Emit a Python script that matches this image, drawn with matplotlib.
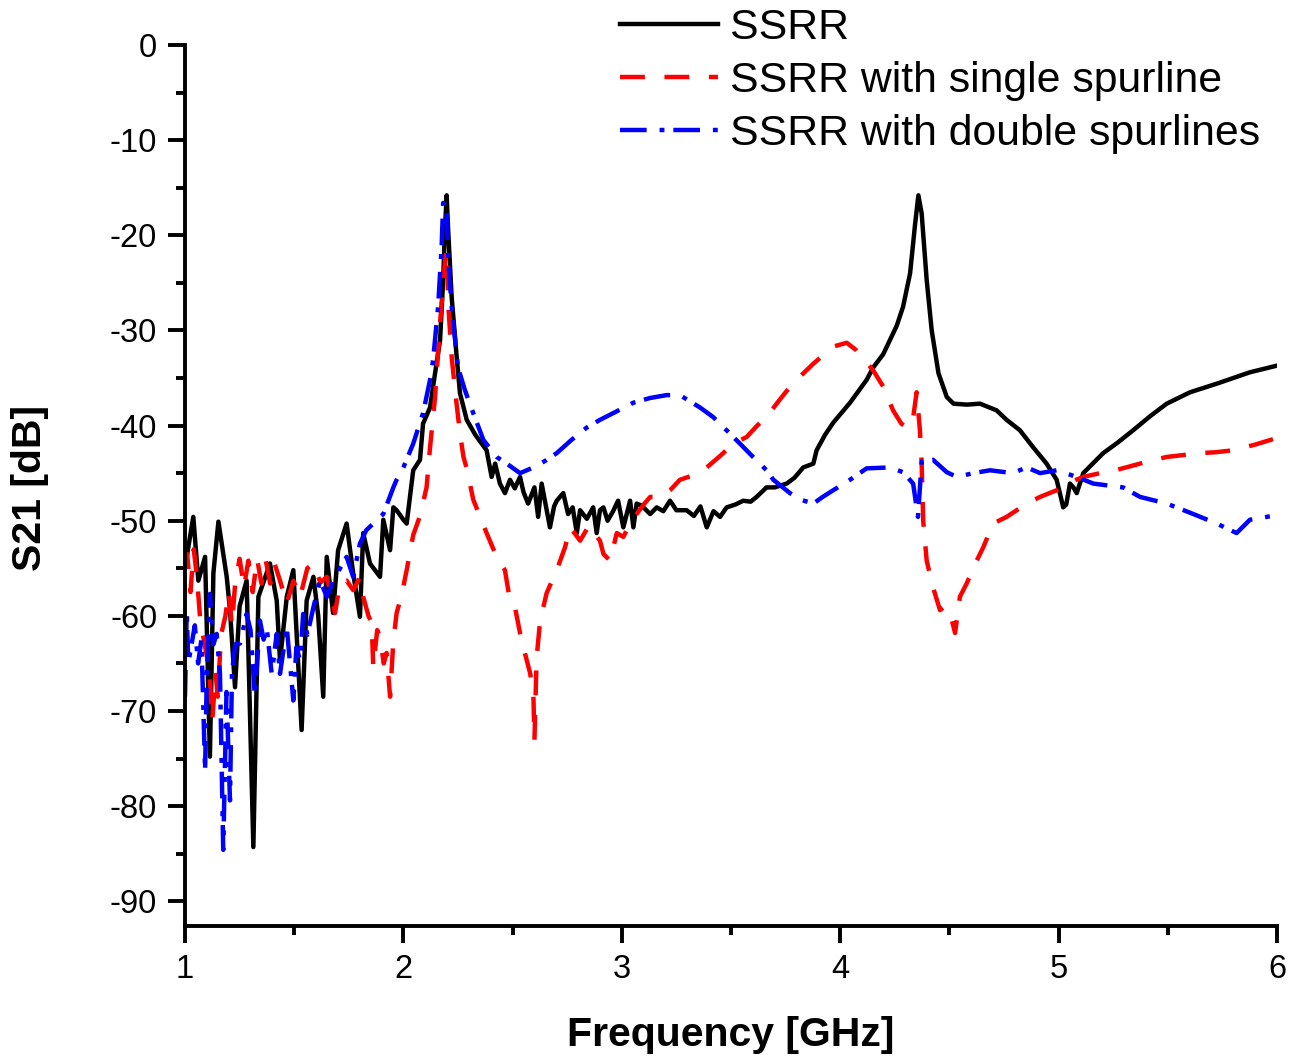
import numpy as np
import matplotlib
matplotlib.use("Agg")
import matplotlib.pyplot as plt
from matplotlib.ticker import MultipleLocator

plt.rcParams['font.family'] = ['Liberation Sans', 'DejaVu Sans']
plt.rcParams['axes.unicode_minus'] = False

# SSRR (black, solid)
f_ssrr = [1.000, 1.038, 1.061, 1.092, 1.114, 1.130, 1.153, 1.191, 1.206, 1.229,
          1.250, 1.282, 1.313, 1.336, 1.389, 1.420, 1.435, 1.466, 1.496, 1.534,
          1.557, 1.588, 1.610, 1.633, 1.649, 1.678, 1.701, 1.740, 1.770, 1.801,
          1.816, 1.847, 1.893, 1.908, 1.939, 1.954, 1.969, 2.000, 2.015, 2.045,
          2.076, 2.090, 2.122, 2.145, 2.168, 2.182, 2.190, 2.198, 2.205, 2.221,
          2.244, 2.259, 2.290, 2.330, 2.381, 2.404, 2.420, 2.442, 2.465, 2.488,
          2.510, 2.534, 2.550, 2.571, 2.600, 2.617, 2.633, 2.656, 2.671, 2.690,
          2.702, 2.732, 2.754, 2.775, 2.794, 2.809, 2.840, 2.869, 2.885, 2.900,
          2.916, 2.935, 2.960, 2.983, 3.007, 3.038, 3.053, 3.068, 3.090, 3.130,
          3.160, 3.190, 3.221, 3.250, 3.297, 3.330, 3.360, 3.389, 3.420, 3.450,
          3.480, 3.520, 3.556, 3.590, 3.617, 3.663, 3.700, 3.755, 3.790, 3.831,
          3.877, 3.892, 3.930, 3.968, 4.045, 4.121, 4.151, 4.197, 4.228, 4.259,
          4.288, 4.320, 4.343, 4.358, 4.373, 4.396, 4.419, 4.450, 4.488, 4.519,
          4.580, 4.640, 4.716, 4.762, 4.823, 4.884, 4.945, 4.991, 5.010, 5.021,
          5.035, 5.052, 5.068, 5.083, 5.113, 5.204, 5.270, 5.341, 5.420, 5.495,
          5.602, 5.724, 5.800, 5.876, 6.000]
s_ssrr = [-54.9, -49.6, -56.3, -53.8, -74.8, -55.5, -50.1, -55.9, -59.4, -67.5,
          -59.0, -56.3, -84.3, -58.0, -54.5, -58.4, -64.7, -58.0, -55.2, -72.0,
          -58.4, -55.9, -60.0, -68.5, -53.8, -59.7, -53.1, -50.3, -55.5, -60.1,
          -51.3, -54.5, -55.9, -49.9, -53.1, -48.6, -48.9, -49.9, -50.3, -44.7,
          -43.6, -39.8, -38.1, -34.5, -31.0, -24.7, -19.5, -15.8, -19.5, -26.5,
          -32.8, -36.6, -39.4, -41.0, -42.6, -45.4, -44.0, -46.1, -47.1, -45.7,
          -46.6, -45.4, -47.0, -48.2, -46.5, -49.6, -46.1, -48.9, -50.7, -48.5,
          -47.9, -47.1, -49.3, -48.6, -51.3, -48.9, -49.8, -48.6, -51.3, -48.9,
          -48.6, -50.0, -49.0, -47.9, -50.7, -47.9, -50.7, -48.2, -48.4, -49.3,
          -48.6, -49.0, -47.9, -48.9, -48.9, -49.5, -48.5, -50.7, -49.0, -49.6,
          -48.6, -48.3, -47.9, -48.0, -47.5, -46.5, -46.5, -46.1, -45.5, -44.4,
          -44.0, -42.6, -41.0, -39.7, -37.6, -35.2, -33.9, -32.5, -31.0, -29.5,
          -27.5, -24.0, -18.8, -15.8, -17.7, -24.7, -30.0, -34.5, -37.0, -37.7,
          -37.8, -37.7, -38.4, -39.4, -40.5, -42.3, -44.0, -45.7, -47.5, -48.6,
          -48.3, -46.1, -46.5, -47.1, -45.0, -42.9, -41.8, -40.5, -39.0, -37.7,
          -36.5, -35.6, -35.0, -34.4, -33.7]

# SSRR with single spurline (red, dashed)
f_single = [1.000, 1.010, 1.025, 1.040, 1.055, 1.070, 1.090, 1.110, 1.125, 1.140,
            1.150, 1.165, 1.185, 1.200, 1.215, 1.230, 1.250, 1.270, 1.290, 1.310,
            1.330, 1.350, 1.370, 1.390, 1.410, 1.435, 1.466, 1.496, 1.527, 1.560,
            1.588, 1.620, 1.649, 1.687, 1.710, 1.740, 1.770, 1.800, 1.816, 1.840,
            1.855, 1.862, 1.880, 1.893, 1.910, 1.923, 1.939, 1.954, 1.969, 1.990,
            2.015, 2.045, 2.076, 2.106, 2.122, 2.145, 2.168, 2.190, 2.198, 2.206,
            2.221, 2.240, 2.259, 2.275, 2.290, 2.320, 2.350, 2.381, 2.427, 2.465,
            2.488, 2.510, 2.534, 2.565, 2.580, 2.595, 2.600, 2.610, 2.626, 2.656,
            2.702, 2.740, 2.763, 2.790, 2.809, 2.850, 2.880, 2.900, 2.916, 2.946,
            2.977, 3.007, 3.038, 3.068, 3.100, 3.130, 3.180, 3.221, 3.266, 3.330,
            3.389, 3.450, 3.510, 3.572, 3.620, 3.663, 3.709, 3.750, 3.800, 3.877,
            3.968, 4.030, 4.075, 4.151, 4.197, 4.242, 4.280, 4.311, 4.335, 4.350,
            4.365, 4.373, 4.380, 4.396, 4.425, 4.457, 4.480, 4.503, 4.526, 4.548,
            4.579, 4.625, 4.655, 4.700, 4.762, 4.854, 4.915, 4.991, 5.037, 5.113,
            5.190, 5.260, 5.341, 5.420, 5.495, 5.570, 5.647, 5.720, 5.799, 5.900,
            6.000]
s_single = [-54.5, -53.5, -57.5, -53.0, -56.0, -60.5, -63.0, -65.5, -71.0, -66.0,
            -68.5, -62.0, -60.0, -57.5, -61.0, -56.5, -54.0, -57.0, -54.2, -57.5,
            -54.0, -56.6, -54.2, -56.6, -54.5, -56.3, -58.7, -56.3, -58.0, -55.0,
            -54.5, -56.5, -55.9, -59.7, -56.5, -56.3, -57.3, -56.0, -58.0, -60.0,
            -60.8, -65.4, -61.5, -62.2, -65.0, -63.9, -68.5, -62.6, -59.7, -58.0,
            -55.2, -51.5, -49.5, -46.5, -42.3, -37.0, -29.2, -22.9, -21.5, -27.5,
            -32.8, -37.0, -40.8, -43.3, -44.5, -47.8, -49.5, -51.3, -53.8, -55.2,
            -58.4, -59.0, -61.8, -64.7, -66.0, -68.1, -73.1, -64.4, -60.5, -57.6,
            -55.2, -52.8, -50.7, -51.5, -52.1, -50.5, -51.5, -52.1, -53.5, -54.2,
            -51.3, -51.7, -50.3, -49.3, -48.3, -47.5, -47.5, -46.8, -45.7, -45.2,
            -44.4, -43.2, -41.9, -41.2, -40.0, -39.1, -37.7, -36.5, -35.2, -33.5,
            -31.7, -31.3, -32.1, -34.2, -35.9, -38.4, -39.8, -40.3, -39.0, -36.5,
            -40.5, -44.0, -50.0, -54.2, -57.0, -59.4, -59.0, -59.7, -61.8, -58.0,
            -56.6, -54.2, -52.8, -50.3, -49.6, -48.2, -47.5, -46.8, -46.1, -45.4,
            -45.0, -44.7, -44.2, -43.7, -43.3, -43.1, -42.9, -42.8, -42.6, -42.0,
            -41.3]

# SSRR with double spurlines (blue, dash-dot)
f_double = [1.000, 1.008, 1.015, 1.030, 1.045, 1.060, 1.075, 1.092, 1.100, 1.114,
            1.130, 1.145, 1.160, 1.175, 1.190, 1.206, 1.215, 1.230, 1.252, 1.282,
            1.300, 1.320, 1.343, 1.360, 1.374, 1.397, 1.420, 1.435, 1.466, 1.496,
            1.510, 1.527, 1.541, 1.560, 1.588, 1.618, 1.650, 1.678, 1.710, 1.740,
            1.770, 1.801, 1.830, 1.862, 1.893, 1.908, 1.954, 1.969, 2.000, 2.045,
            2.090, 2.122, 2.136, 2.159, 2.175, 2.182, 2.198, 2.206, 2.221, 2.250,
            2.282, 2.320, 2.366, 2.427, 2.473, 2.534, 2.565, 2.595, 2.650, 2.702,
            2.770, 2.840, 2.900, 2.960, 3.053, 3.130, 3.205, 3.266, 3.358, 3.418,
            3.480, 3.541, 3.601, 3.663, 3.694, 3.770, 3.820, 3.877, 3.920, 3.968,
            4.045, 4.121, 4.228, 4.288, 4.334, 4.356, 4.373, 4.425, 4.488, 4.534,
            4.610, 4.686, 4.790, 4.854, 4.915, 4.991, 5.083, 5.159, 5.295, 5.373,
            5.495, 5.617, 5.724, 5.815, 5.876, 5.952, 6.000]
s_double = [-68.5, -59.4, -65.0, -63.0, -61.0, -65.0, -62.5, -76.2, -66.0, -57.7,
            -63.0, -61.9, -66.0, -84.6, -68.0, -79.4, -66.0, -63.0, -62.9, -59.8,
            -61.5, -68.5, -60.5, -62.5, -61.2, -66.1, -61.9, -66.1, -61.2, -68.9,
            -63.3, -64.7, -59.8, -62.0, -59.1, -56.3, -58.0, -56.3, -55.0, -53.8,
            -55.9, -52.4, -51.0, -50.3, -49.6, -49.3, -46.5, -45.7, -44.4, -41.9,
            -38.7, -35.2, -33.1, -27.5, -21.2, -16.6, -17.7, -22.9, -27.5, -33.9,
            -36.3, -38.7, -41.5, -43.3, -44.0, -45.0, -44.7, -44.4, -43.7, -42.9,
            -41.5, -40.2, -39.4, -38.7, -37.6, -37.1, -36.8, -36.8, -38.1, -39.1,
            -40.5, -41.9, -43.3, -44.7, -45.7, -47.1, -47.8, -48.2, -47.5, -46.8,
            -45.7, -44.5, -44.4, -44.9, -46.1, -49.6, -43.8, -43.6, -44.9, -45.4,
            -45.0, -44.7, -45.0, -44.4, -45.0, -44.7, -45.4, -46.1, -46.5, -47.5,
            -48.2, -49.3, -50.3, -51.3, -49.9, -49.6, -49.4]

fig = plt.figure(figsize=(12.99, 10.59), dpi=100)
ax = fig.add_axes([185/1299, 1 - 926/1059, 1092/1299, 881/1059])

lw = 3.2
ax.plot(f_ssrr, s_ssrr, color='black', lw=lw, label='SSRR')
ax.plot(f_single, s_single, color='red', lw=lw, dashes=(5.6, 4.4),
        label='SSRR with single spurline')
ax.plot(f_double, s_double, color='blue', lw=lw, dashes=(6.0, 2.9, 1.1, 2.0),
        label='SSRR with double spurlines')

ax.set_xlim(1, 6)
ax.set_ylim(-92.6, 0)
ax.set_xticks([1, 2, 3, 4, 5, 6])
ax.set_yticks(np.arange(0, -91, -10))
ax.xaxis.set_minor_locator(MultipleLocator(0.5))
ax.yaxis.set_minor_locator(MultipleLocator(5))

for side in ['top', 'right']:
    ax.spines[side].set_visible(False)
for side in ['left', 'bottom']:
    ax.spines[side].set_linewidth(2.8)

ax.tick_params(which='major', direction='out', length=12, width=2.8,
               labelsize=23.5, pad=8)
ax.tick_params(which='minor', direction='out', length=6.5, width=2.8)

fig.text(731/1299, 1 - 1035/1059, 'Frequency [GHz]', ha='center', va='center',
         fontsize=29.5, fontweight='bold')
fig.text(30/1299, 1 - 488/1059, 'S21 [dB]', ha='center', va='center',
         rotation=90, fontsize=29.5, fontweight='bold')

ax.legend(loc='upper left', bbox_to_anchor=(620/1299, 1 - 8/1059),
          bbox_transform=fig.transFigure, frameon=False, fontsize=30.8,
          handlelength=2.3, handletextpad=0.28, labelspacing=0.3,
          borderpad=0, borderaxespad=0)

fig.savefig('out.png', dpi=100)
